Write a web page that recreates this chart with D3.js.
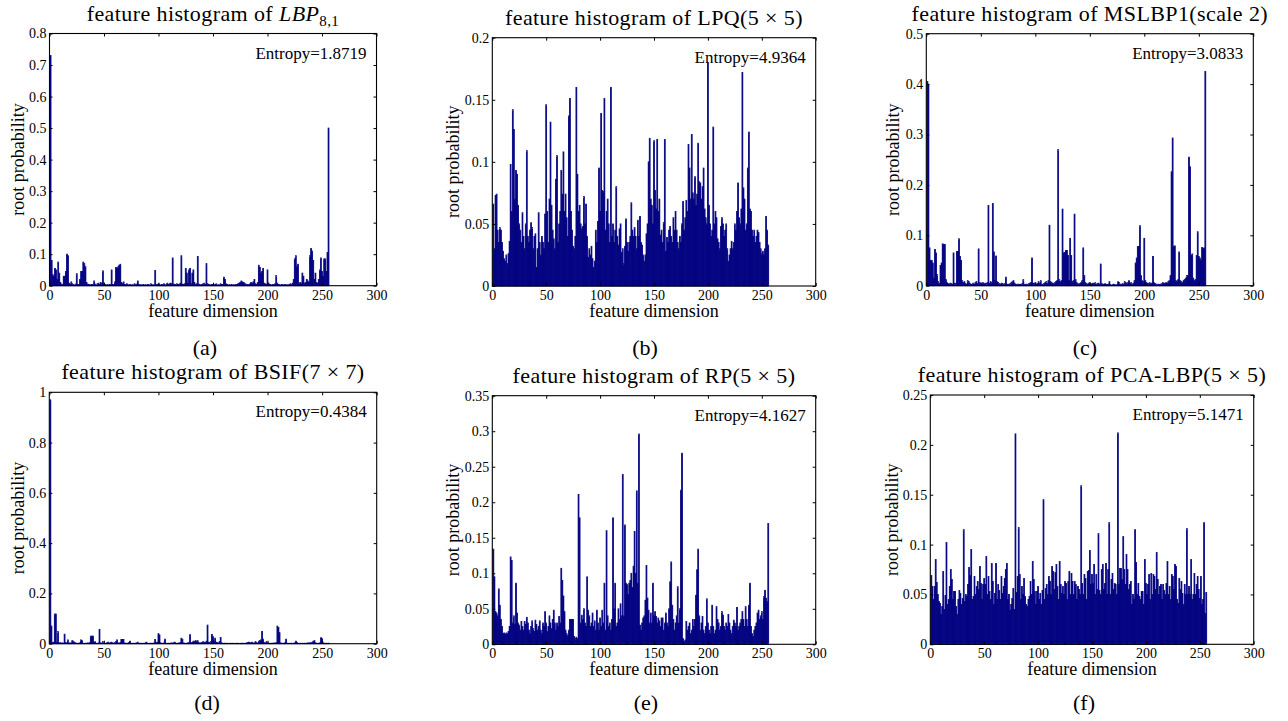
<!DOCTYPE html>
<html>
<head>
<meta charset="utf-8">
<script src="https://cdn.jsdelivr.net/npm/d3@7"></script>
<style>
body { margin: 0; background: #fff; }
text { font-family: "Liberation Serif", "Times New Roman", serif; fill: #000; }
</style>
</head>
<body>
<script>
// feature index 1..256 (the histogram bins)
var dims = d3.range(1, 257);
var xTicks = [0, 50, 100, 150, 200, 250, 300];

// (a) LBP 8,1
var lbpVals = [
0.73,0.08,0.035,0.03,0.055,0.05,0.02,0.075,0.04,0.01,0.005,0.003,0.03,0.03,0.045,0.1,
0.095,0.008,0.004,0.012,0.006,0.003,0.002,0.005,0.038,0.004,0.003,0.02,0.045,0.045,0.075,0.07,
0.06,0.01,0.005,0.004,0.003,0.002,0.004,0.003,0.015,0.005,0.002,0.006,0.008,0.004,0.01,0.006,
0.047,0.008,0.004,0.002,0.003,0.002,0.004,0.003,0.05,0.004,0.003,0.012,0.058,0.055,0.06,0.065,
0.068,0.01,0.006,0.012,0.004,0.003,0.006,0.003,0.002,0.004,0.002,0.003,0.002,0.006,0.003,0.005,
0.015,0.004,0.002,0.003,0.002,0.004,0.002,0.003,0.002,0.004,0.003,0.002,0.006,0.003,0.002,0.003,
0.048,0.004,0.003,0.006,0.003,0.002,0.004,0.003,0.006,0.002,0.003,0.008,0.004,0.006,0.008,0.006,
0.088,0.005,0.004,0.003,0.006,0.004,0.003,0.008,0.095,0.005,0.004,0.006,0.055,0.04,0.008,0.05,
0.055,0.006,0.04,0.05,0.01,0.004,0.006,0.093,0.005,0.003,0.002,0.004,0.006,0.008,0.004,0.07,
0.006,0.004,0.003,0.002,0.004,0.003,0.002,0.004,0.006,0.002,0.003,0.002,0.006,0.004,0.003,0.027,
0.02,0.006,0.004,0.002,0.003,0.002,0.004,0.002,0.003,0.002,0.004,0.003,0.006,0.008,0.01,0.015,
0.012,0.01,0.008,0.005,0.003,0.004,0.002,0.006,0.01,0.008,0.012,0.02,0.006,0.004,0.01,0.065,
0.058,0.04,0.045,0.055,0.008,0.006,0.004,0.05,0.008,0.004,0.003,0.002,0.004,0.002,0.006,0.032,
0.008,0.004,0.003,0.002,0.004,0.003,0.002,0.004,0.002,0.003,0.002,0.004,0.006,0.003,0.008,0.02,
0.085,0.095,0.06,0.068,0.006,0.01,0.008,0.04,0.03,0.008,0.01,0.02,0.015,0.01,0.095,0.118,
0.11,0.08,0.02,0.04,0.01,0.008,0.02,0.05,0.088,0.045,0.03,0.085,0.085,0.045,0.105,0.5
];

// (b) LPQ 5x5
var lpqVals = [
0.066,0.03,0.073,0.074,0.045,0.035,0.047,0.045,0.035,0.028,0.022,0.02,0.025,0.018,0.026,0.036,
0.098,0.06,0.142,0.126,0.07,0.093,0.09,0.065,0.05,0.045,0.035,0.059,0.04,0.03,0.05,0.109,
0.04,0.035,0.045,0.051,0.047,0.03,0.04,0.042,0.015,0.03,0.059,0.035,0.025,0.04,0.035,0.03,
0.058,0.146,0.06,0.035,0.07,0.132,0.065,0.045,0.038,0.03,0.086,0.105,0.035,0.05,0.06,0.093,
0.074,0.108,0.06,0.074,0.055,0.04,0.137,0.151,0.06,0.045,0.032,0.03,0.04,0.16,0.09,0.06,
0.065,0.05,0.046,0.048,0.072,0.05,0.066,0.04,0.023,0.03,0.025,0.032,0.022,0.015,0.02,0.045,
0.035,0.052,0.095,0.06,0.139,0.077,0.076,0.151,0.045,0.06,0.07,0.05,0.035,0.16,0.04,0.05,
0.035,0.045,0.08,0.04,0.033,0.046,0.05,0.027,0.03,0.018,0.032,0.054,0.035,0.028,0.035,0.04,
0.067,0.045,0.04,0.047,0.04,0.03,0.053,0.04,0.056,0.035,0.033,0.025,0.02,0.025,0.042,0.05,
0.1,0.119,0.07,0.065,0.05,0.117,0.077,0.062,0.118,0.06,0.07,0.041,0.045,0.035,0.051,0.118,
0.028,0.039,0.035,0.045,0.048,0.04,0.035,0.055,0.045,0.06,0.045,0.035,0.03,0.04,0.035,0.05,
0.068,0.045,0.055,0.069,0.06,0.114,0.095,0.07,0.122,0.075,0.07,0.088,0.065,0.074,0.115,0.084,
0.083,0.07,0.08,0.095,0.062,0.055,0.05,0.18,0.065,0.05,0.04,0.045,0.128,0.05,0.06,0.055,
0.038,0.035,0.03,0.048,0.055,0.05,0.04,0.045,0.05,0.03,0.02,0.025,0.03,0.036,0.03,0.035,
0.05,0.045,0.06,0.083,0.055,0.05,0.062,0.172,0.079,0.07,0.045,0.05,0.095,0.124,0.062,0.06,
0.045,0.04,0.045,0.035,0.04,0.045,0.043,0.035,0.03,0.026,0.028,0.025,0.03,0.056,0.045,0.033
];

// (c) MSLBP1 scale 2
var mslbpVals = [
0.405,0.4,0.075,0.05,0.05,0.045,0.015,0.072,0.065,0.022,0.008,0.004,0.04,0.045,0.083,0.082,
0.082,0.012,0.006,0.004,0.003,0.005,0.004,0.003,0.065,0.005,0.004,0.068,0.068,0.093,0.058,0.05,
0.01,0.006,0.008,0.004,0.003,0.01,0.008,0.004,0.003,0.002,0.005,0.003,0.006,0.008,0.004,0.073,
0.006,0.005,0.004,0.006,0.003,0.005,0.004,0.006,0.159,0.005,0.008,0.006,0.163,0.067,0.01,0.059,
0.008,0.006,0.004,0.003,0.005,0.004,0.003,0.004,0.017,0.003,0.002,0.003,0.004,0.006,0.008,0.01,
0.005,0.003,0.002,0.003,0.002,0.003,0.002,0.004,0.012,0.003,0.002,0.003,0.002,0.004,0.005,0.006,
0.055,0.005,0.004,0.006,0.003,0.004,0.008,0.005,0.01,0.003,0.002,0.004,0.006,0.008,0.005,0.01,
0.12,0.008,0.006,0.005,0.004,0.006,0.008,0.01,0.27,0.012,0.008,0.01,0.152,0.065,0.066,0.07,
0.07,0.06,0.01,0.094,0.06,0.008,0.01,0.142,0.012,0.006,0.004,0.003,0.004,0.006,0.01,0.075,
0.02,0.006,0.004,0.003,0.005,0.006,0.004,0.003,0.005,0.004,0.006,0.003,0.004,0.005,0.003,0.043,
0.004,0.003,0.002,0.004,0.003,0.002,0.003,0.008,0.002,0.001,0.002,0.003,0.002,0.001,0.002,0.008,
0.006,0.003,0.002,0.004,0.003,0.008,0.006,0.004,0.006,0.01,0.005,0.006,0.003,0.005,0.01,0.045,
0.055,0.078,0.078,0.119,0.02,0.01,0.008,0.094,0.01,0.006,0.005,0.004,0.006,0.004,0.005,0.058,
0.006,0.004,0.003,0.002,0.003,0.002,0.003,0.004,0.006,0.005,0.004,0.006,0.005,0.008,0.01,0.02,
0.226,0.293,0.078,0.079,0.01,0.008,0.012,0.067,0.01,0.008,0.006,0.01,0.012,0.015,0.02,0.02,
0.255,0.236,0.06,0.063,0.015,0.01,0.012,0.06,0.107,0.058,0.055,0.05,0.076,0.074,0.075,0.425
];

// (d) BSIF 7x7
var bsifVals = [
0.97,0.07,0.004,0.006,0.118,0.118,0.005,0.048,0.003,0.004,0.002,0.003,0.002,0.038,0.004,0.003,
0.015,0.002,0.003,0.002,0.012,0.01,0.006,0.003,0.002,0.001,0.002,0.003,0.015,0.012,0.002,0.001,
0.002,0.001,0.003,0.002,0.004,0.03,0.03,0.03,0.005,0.008,0.002,0.001,0.003,0.057,0.003,0.002,
0.008,0.003,0.002,0.001,0.004,0.006,0.002,0.004,0.006,0.003,0.002,0.004,0.008,0.015,0.003,0.002,
0.004,0.017,0.017,0.017,0.003,0.002,0.001,0.002,0.004,0.01,0.002,0.001,0.002,0.001,0.002,0.003,
0.006,0.002,0.001,0.002,0.001,0.002,0.001,0.003,0.006,0.002,0.001,0.002,0.001,0.002,0.001,0.003,
0.017,0.004,0.006,0.04,0.035,0.003,0.002,0.001,0.003,0.018,0.002,0.001,0.002,0.001,0.002,0.003,
0.002,0.004,0.006,0.002,0.001,0.002,0.003,0.004,0.022,0.018,0.003,0.002,0.001,0.002,0.003,0.004,
0.036,0.003,0.005,0.01,0.008,0.012,0.01,0.012,0.004,0.002,0.003,0.005,0.008,0.006,0.004,0.01,
0.074,0.006,0.004,0.008,0.037,0.028,0.01,0.022,0.006,0.004,0.003,0.008,0.025,0.003,0.002,0.001,
0.002,0.001,0.002,0.001,0.001,0.002,0.001,0.002,0.001,0.001,0.002,0.001,0.002,0.001,0.001,0.002,
0.001,0.002,0.001,0.002,0.003,0.004,0.006,0.003,0.004,0.006,0.002,0.003,0.008,0.004,0.002,0.01,
0.012,0.015,0.049,0.018,0.004,0.003,0.008,0.004,0.002,0.001,0.002,0.001,0.002,0.003,0.002,0.004,
0.07,0.065,0.044,0.003,0.002,0.001,0.002,0.003,0.018,0.002,0.001,0.002,0.001,0.002,0.001,0.002,
0.003,0.01,0.004,0.002,0.001,0.002,0.001,0.002,0.001,0.002,0.001,0.002,0.003,0.002,0.004,0.003,
0.006,0.01,0.012,0.003,0.002,0.001,0.002,0.003,0.024,0.02,0.003,0.002,0.001,0.002,0.001,0.002
];

// (e) RP 5x5
var rpVals = [
0.134,0.095,0.046,0.044,0.04,0.078,0.055,0.035,0.025,0.015,0.016,0.014,0.016,0.015,0.018,0.025,
0.123,0.118,0.03,0.04,0.028,0.086,0.044,0.03,0.027,0.02,0.032,0.025,0.02,0.032,0.028,0.038,
0.03,0.02,0.015,0.025,0.033,0.022,0.018,0.034,0.028,0.02,0.025,0.033,0.02,0.015,0.03,0.025,
0.046,0.03,0.018,0.025,0.04,0.03,0.022,0.035,0.048,0.03,0.02,0.03,0.025,0.039,0.03,0.107,
0.09,0.068,0.046,0.02,0.015,0.012,0.02,0.035,0.035,0.035,0.035,0.011,0.008,0.01,0.008,0.211,
0.178,0.03,0.041,0.035,0.05,0.03,0.025,0.095,0.048,0.04,0.025,0.03,0.044,0.025,0.033,0.02,
0.048,0.03,0.02,0.037,0.025,0.048,0.03,0.086,0.02,0.16,0.04,0.025,0.03,0.02,0.035,0.178,
0.05,0.086,0.025,0.03,0.05,0.035,0.057,0.04,0.239,0.04,0.168,0.086,0.084,0.07,0.086,0.09,
0.1,0.08,0.11,0.159,0.1,0.216,0.086,0.296,0.027,0.02,0.03,0.037,0.04,0.062,0.111,0.065,
0.048,0.03,0.044,0.03,0.086,0.04,0.046,0.039,0.03,0.037,0.033,0.025,0.037,0.037,0.02,0.03,
0.044,0.03,0.025,0.05,0.088,0.116,0.055,0.035,0.02,0.03,0.04,0.081,0.03,0.05,0.217,0.269,
0.008,0.004,0.006,0.032,0.02,0.025,0.03,0.015,0.02,0.035,0.025,0.035,0.069,0.105,0.134,0.04,
0.02,0.03,0.039,0.02,0.015,0.025,0.064,0.03,0.02,0.015,0.025,0.055,0.025,0.015,0.02,0.053,
0.035,0.03,0.02,0.025,0.046,0.041,0.025,0.02,0.03,0.025,0.042,0.03,0.02,0.015,0.025,0.034,
0.03,0.025,0.052,0.02,0.025,0.03,0.035,0.046,0.035,0.025,0.053,0.035,0.025,0.055,0.086,0.025,
0.015,0.011,0.02,0.025,0.03,0.044,0.048,0.035,0.04,0.046,0.035,0.067,0.076,0.065,0.06,0.17
];

// (f) PCA-LBP 5x5
var pcaVals = [
0.069,0.058,0.045,0.058,0.085,0.062,0.05,0.043,0.041,0.03,0.038,0.073,0.035,0.049,0.102,0.04,
0.045,0.058,0.075,0.065,0.045,0.053,0.053,0.038,0.03,0.045,0.054,0.051,0.04,0.046,0.115,0.043,
0.05,0.048,0.06,0.077,0.069,0.095,0.045,0.048,0.068,0.05,0.058,0.063,0.055,0.078,0.061,0.045,
0.06,0.066,0.06,0.088,0.05,0.068,0.053,0.045,0.081,0.063,0.04,0.051,0.081,0.045,0.06,0.054,
0.045,0.068,0.051,0.058,0.066,0.075,0.081,0.045,0.05,0.034,0.04,0.046,0.056,0.035,0.211,0.052,
0.068,0.117,0.07,0.045,0.058,0.05,0.066,0.048,0.04,0.038,0.045,0.048,0.063,0.05,0.083,0.065,
0.053,0.04,0.053,0.058,0.045,0.051,0.04,0.054,0.145,0.045,0.056,0.06,0.05,0.068,0.063,0.05,
0.078,0.073,0.055,0.072,0.08,0.058,0.045,0.083,0.06,0.051,0.058,0.05,0.063,0.061,0.045,0.063,
0.073,0.05,0.071,0.063,0.05,0.063,0.06,0.045,0.058,0.055,0.05,0.159,0.061,0.05,0.07,0.066,
0.045,0.073,0.074,0.094,0.06,0.07,0.061,0.08,0.05,0.07,0.055,0.111,0.054,0.05,0.075,0.08,
0.055,0.061,0.081,0.05,0.075,0.122,0.05,0.065,0.071,0.055,0.061,0.06,0.05,0.212,0.06,0.076,
0.076,0.065,0.108,0.075,0.06,0.09,0.075,0.055,0.06,0.063,0.04,0.05,0.045,0.115,0.082,0.05,
0.061,0.048,0.045,0.053,0.053,0.04,0.085,0.061,0.05,0.06,0.07,0.045,0.071,0.05,0.07,0.068,
0.055,0.092,0.065,0.05,0.058,0.06,0.045,0.06,0.054,0.05,0.061,0.083,0.05,0.058,0.045,0.07,
0.068,0.055,0.08,0.078,0.045,0.041,0.066,0.055,0.063,0.051,0.04,0.06,0.05,0.116,0.05,0.058,
0.05,0.085,0.045,0.05,0.071,0.05,0.06,0.068,0.055,0.046,0.068,0.04,0.045,0.122,0.031,0.052
];

var entropies = ["1.8719", "4.9364", "3.0833", "0.4384", "4.1627", "5.1471"];
var captions = ["(a)", "(b)", "(c)", "(d)", "(e)", "(f)"];
var yMax = [0.8, 0.2, 0.5, 1, 0.35, 0.25];
var yStep = [0.1, 0.05, 0.1, 0.2, 0.05, 0.05];
// title pieces: [text, kind]
var titles = [
	[["feature histogram of ", ""], ["LBP", "it"], ["8,1", "sub"]],
	[["feature histogram of LPQ(5 \u00d7 5)", ""]],
	[["feature histogram of MSLBP1(scale 2)", ""]],
	[["feature histogram of BSIF(7 \u00d7 7)", ""]],
	[["feature histogram of RP(5 \u00d7 5)", ""]],
	[["feature histogram of PCA-LBP(5 \u00d7 5)", ""]]
];
var series = [lbpVals, lpqVals, mslbpVals, bsifVals, rpVals, pcaVals];

var boxes = [
	{x: 49.5, y: 33.5, w: 327, h: 252.2, lab: 26, cx: 205, cy: 355},
	{x: 492.3, y: 37.7, w: 323.4, h: 248.3, lab: 33, cx: 645, cy: 355},
	{x: 926.3, y: 33.7, w: 327, h: 252, lab: 27, cx: 1085, cy: 355},
	{x: 49.3, y: 392.3, w: 327.4, h: 251.4, lab: 25, cx: 207, cy: 710},
	{x: 492.3, y: 395.7, w: 323.4, h: 248.6, lab: 33, cx: 646, cy: 710},
	{x: 930.3, y: 395, w: 323.4, h: 249.3, lab: 32, cx: 1084, cy: 710}
];

var barColor = "#000080";
var fmt = function (d) { return String(+d.toFixed(2)); };

var svg = d3.select("body").append("svg")
	.attr("width", 1288).attr("height", 721);
svg.append("rect").attr("width", 1288).attr("height", 721).attr("fill", "#fff");

boxes.forEach(function (b, k) {
	var g = svg.append("g");
	var x = d3.scaleLinear().domain([0, 300]).range([b.x, b.x + b.w]);
	var y = d3.scaleLinear().domain([0, yMax[k]]).range([b.y + b.h, b.y]);
	var yTicks = d3.range(0, yMax[k] + yStep[k] / 2, yStep[k]);
	var vals = series[k];

	// bars (stroke widens them a bit so dense runs read as solid)
	g.append("g").selectAll("rect").data(vals).enter().append("rect")
		.attr("x", function (d, i) { return x(dims[i] - 0.4); })
		.attr("width", x(0.8) - x(0))
		.attr("y", function (d) { return y(d); })
		.attr("height", function (d) { return y(0) - y(d); })
		.attr("fill", barColor)
		.attr("stroke", barColor)
		.attr("stroke-width", 0.8);

	// axes, ticks inside like matlab
	g.append("g").attr("transform", "translate(" + b.x + ",0)")
		.call(d3.axisLeft(y).tickValues(yTicks).tickSize(-3).tickPadding(3).tickFormat(fmt));
	g.append("g").attr("transform", "translate(0," + (b.y + b.h) + ")")
		.call(d3.axisBottom(x).tickValues(xTicks).tickSize(-3).tickPadding(4).tickFormat(fmt));
	g.append("g").attr("transform", "translate(" + (b.x + b.w) + ",0)")
		.call(d3.axisRight(y).tickValues(yTicks).tickSize(-3).tickFormat(""));
	g.append("g").attr("transform", "translate(0," + b.y + ")")
		.call(d3.axisTop(x).tickValues(xTicks).tickSize(-3).tickFormat(""));
	g.selectAll(".domain").remove();
	g.selectAll(".tick text").attr("font-size", 14);

	g.append("rect").attr("x", b.x).attr("y", b.y).attr("width", b.w).attr("height", b.h)
		.attr("fill", "none").attr("stroke", "#000").attr("stroke-width", 1.1);

	// title
	var t = g.append("text").attr("x", b.x + b.w / 2).attr("y", b.y - 13)
		.attr("text-anchor", "middle").style("font-size", "22px").style("letter-spacing", "0.4px");
	titles[k].forEach(function (part) {
		var s = t.append("tspan").text(part[0]);
		if (part[1] == "it") s.style("font-style", "italic");
		if (part[1] == "sub") s.attr("dy", 5).style("font-size", "15px");
	});

	g.append("text").attr("x", b.x + b.w - 10).attr("y", b.y + 25)
		.attr("text-anchor", "end").style("font-size", "17px")
		.text("Entropy=" + entropies[k]);

	g.append("text").attr("x", b.x + b.w / 2).attr("y", b.y + b.h + 31)
		.attr("text-anchor", "middle").style("font-size", "18px")
		.text("feature dimension");

	g.append("text")
		.attr("transform", "translate(" + (b.x - b.lab) + "," + (b.y + b.h / 2) + ") rotate(-90)")
		.attr("text-anchor", "middle").style("font-size", "18px")
		.text("root probability");

	svg.append("text").attr("x", b.cx).attr("y", b.cy)
		.attr("text-anchor", "middle").style("font-size", "22px")
		.text(captions[k]);
});
</script>
</body>
</html>
